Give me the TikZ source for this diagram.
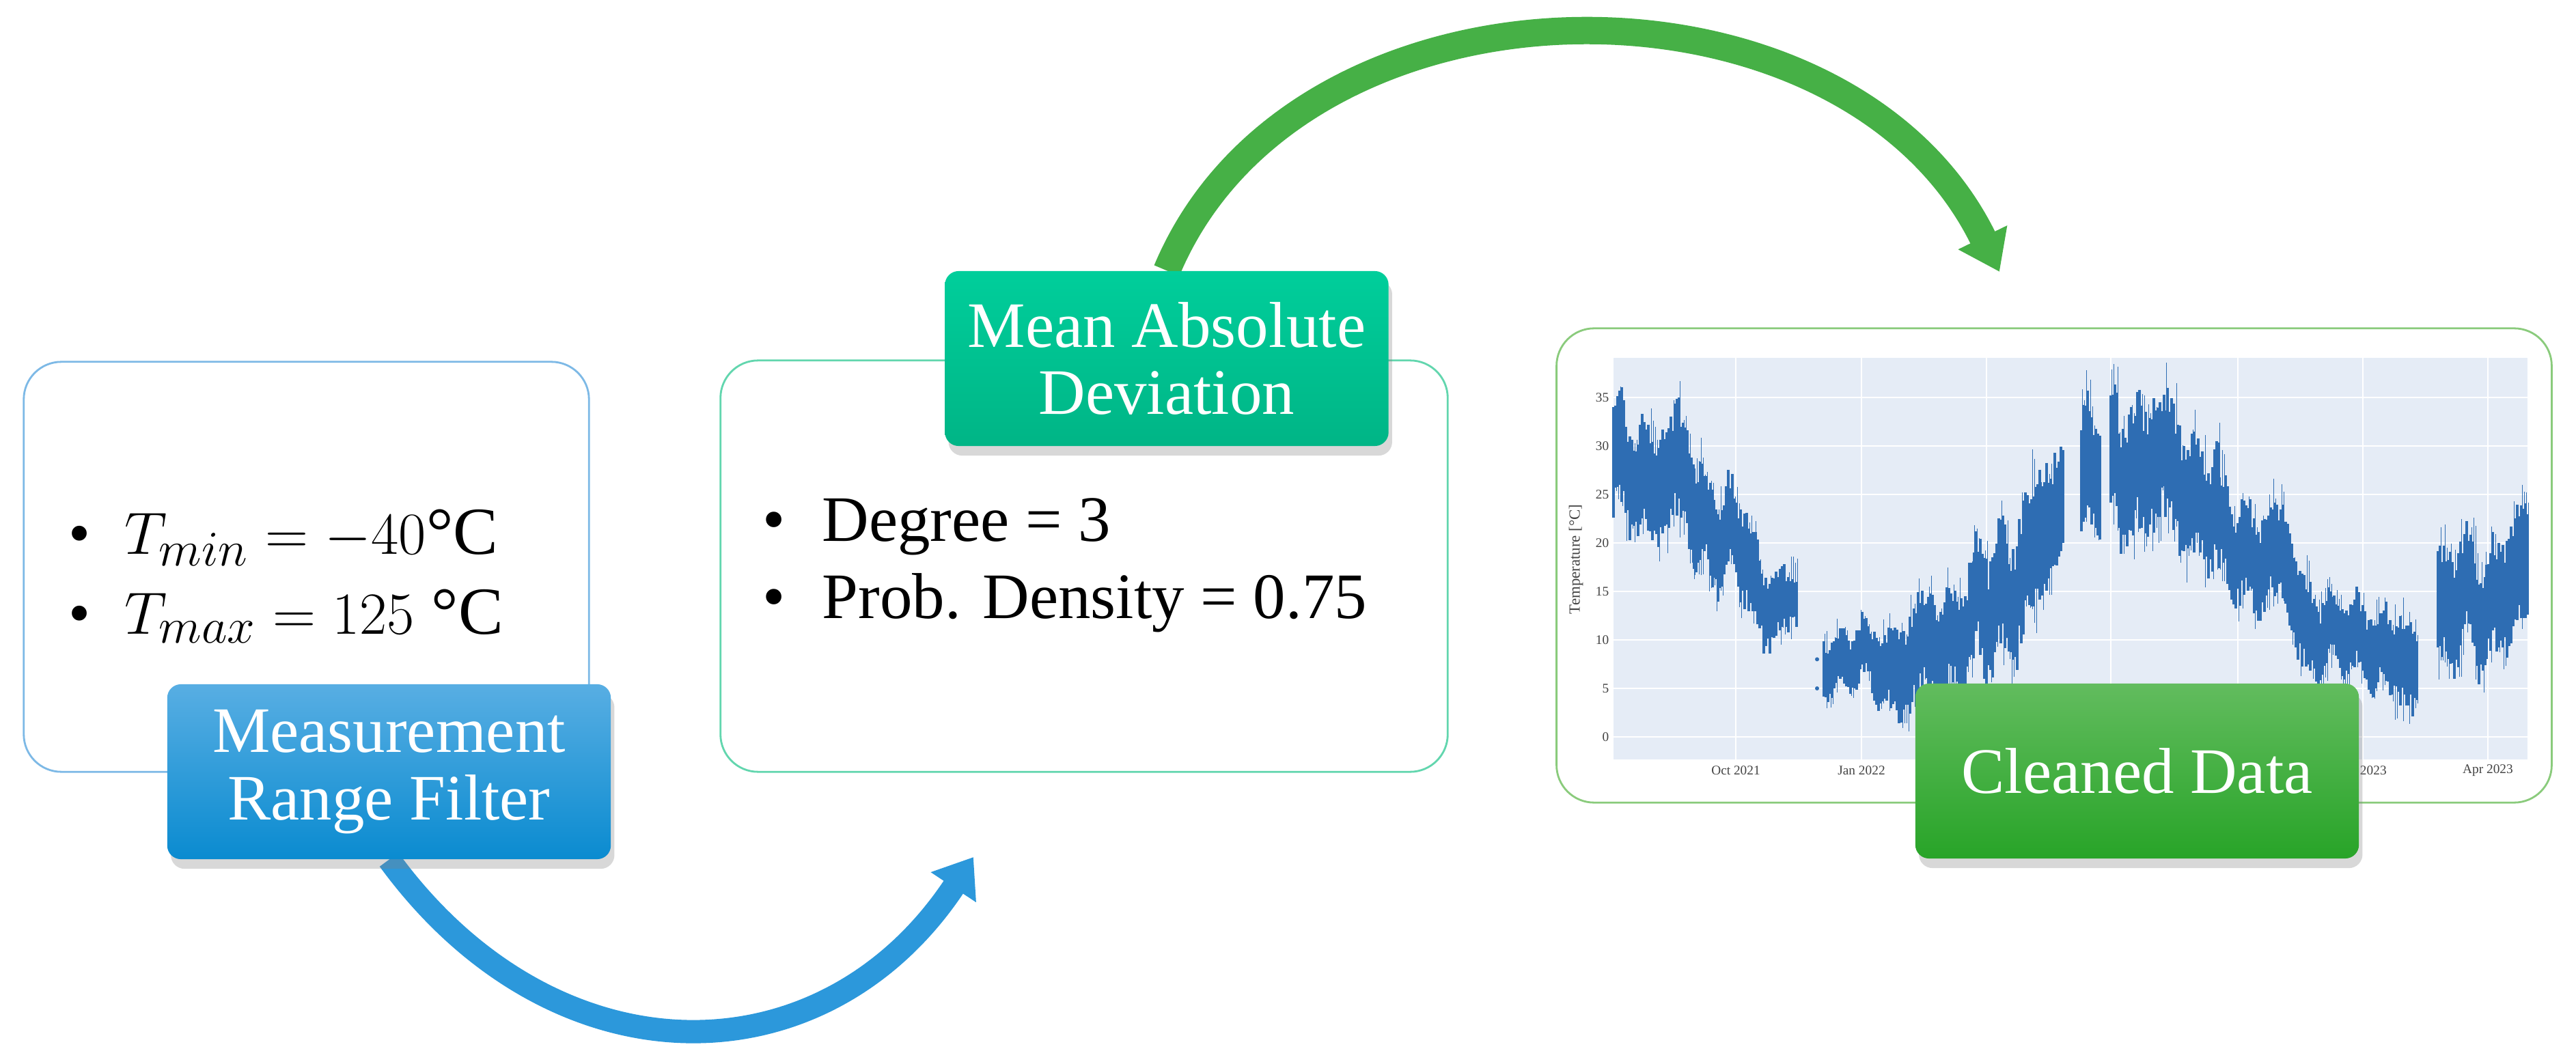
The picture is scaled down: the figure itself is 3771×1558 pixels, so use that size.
\documentclass[tikz,border=0pt]{standalone}
\usepackage{fontspec}
\setmainfont{Liberation Serif}
\usetikzlibrary{arrows.meta,shadows}
\definecolor{bOneBorder}{HTML}{7DB9E6}
\definecolor{bTwoBorder}{HTML}{62D6AE}
\definecolor{bThreeBorder}{HTML}{8ACB7C}
\definecolor{blueTop}{HTML}{58AEE3}
\definecolor{blueBot}{HTML}{0A8BD0}
\definecolor{tealTop}{HTML}{00CE9B}
\definecolor{tealBot}{HTML}{00B586}
\definecolor{greenTop}{HTML}{62BC5E}
\definecolor{greenBot}{HTML}{28A428}
\definecolor{arrBlue}{HTML}{2C98DB}
\definecolor{arrGreen}{HTML}{46B046}
\definecolor{plotBg}{HTML}{E5ECF6}
\definecolor{dataLine}{HTML}{2E6DB3}
\definecolor{tickText}{HTML}{444444}
\pgfdeclarelayer{bg}
\pgfdeclarelayer{arr}
\pgfsetlayers{bg,arr,main}
\begin{document}
\begin{tikzpicture}[x=0.01cm,y=-0.01cm,
  panel/.style={draw, line width=0.8pt, rounded corners=0.55cm, fill=white, inner sep=0pt},
  tag/.style={rounded corners=0.2cm, minimum width=6.49cm, minimum height=2.56cm,
    inner sep=0pt, text=white, align=center, font=\fontsize{27pt}{28pt}\selectfont,
    drop shadow={shadow xshift=1.5pt, shadow yshift=-4pt, opacity=0.3}},
  bulline/.style={anchor=base west, inner sep=0pt},
  tickl/.style={font=\fontsize{5.5pt}{6pt}\selectfont, text=tickText, inner sep=0pt},
  gridl/.style={white, line width=0.6pt},
  datathick/.style={dataLine, line width=0.032cm},
  datathin/.style={dataLine, line width=0.013cm},
  flowblue/.style={line width=0.34cm, arrBlue, -{Triangle[length=0.53cm,width=0.76cm]}},
  flowgreen/.style={line width=0.4cm, arrGreen, -{Triangle[length=0.56cm,width=0.76cm]}}
]
\useasboundingbox (0,0) rectangle (3771,1558);
\begin{pgfonlayer}{bg}
\fill[white] (0,0) rectangle (3771,1558);
\end{pgfonlayer}

% panels
\node[panel, draw=bOneBorder, minimum width=8.27cm, minimum height=6.0cm] (box1) at (448.5,830) {};
\node[panel, draw=bTwoBorder, minimum width=10.64cm, minimum height=6.02cm] (box2) at (1587,829) {};
\node[panel, draw=bThreeBorder, minimum width=14.56cm, minimum height=6.94cm] (box3) at (3007,828) {};

% bullet texts
\node[bulline, font=\fontsize{28pt}{30pt}\selectfont] (tmin) at (100,811) {\makebox[0.82cm][l]{\fontsize{26pt}{30pt}\selectfont\textbullet}$T_{min} = -40$°C};
\node[bulline, font=\fontsize{28pt}{30pt}\selectfont] (tmax) at (100,928) {\makebox[0.82cm][l]{\fontsize{26pt}{30pt}\selectfont\textbullet}$T_{max} = 125$~°C};
\node[bulline, font=\fontsize{27pt}{30pt}\selectfont] (deg) at (1116,793) {\makebox[0.87cm][l]{\textbullet}Degree = 3};
\node[bulline, font=\fontsize{27pt}{30pt}\selectfont] (prob) at (1116,906) {\makebox[0.87cm][l]{\textbullet}Prob. Density = 0.75};

% chart
\fill[plotBg] (2362,524) rectangle (3700,1112);
\foreach \v in {0,5,...,35} \draw[gridl] (2362,{1079-14.2*\v}) -- (3700,{1079-14.2*\v});
\foreach \x in {2541,2725,2908,3090,3276,3459,3642} \draw[gridl] (\x,524) -- (\x,1112);
\foreach \v in {0,5,...,35} \node[tickl, anchor=east] (yt\v) at (2356,{1079-14.2*\v}) {\v};
\node[tickl] (xtA) at (2541,1128) {Oct 2021};
\node[tickl] (xtB) at (2725,1128) {Jan 2022};
\node[tickl] (xtC) at (3459,1128) {Jan 2023};
\node[tickl] (xtD) at (3642,1128) {Apr 2023};
\node[tickl, rotate=90, font=\fontsize{6.5pt}{7pt}\selectfont] (ylab) at (2307,819) {Temperature [°C]};

\pgfmathsetseed{11}
\foreach \xa/\ca/\aa/\xb/\cb/\ab in {
2362/27/6/2464/27/6, 2464/27/6/2480/23/6, 2480/23/6/2509/22/5, 2509/22/5/2554/19/5,
2554/19/5/2570/15/5, 2570/15/5/2585/14/4, 2585/14/4/2632/14/3,
2670/8/3/2723/8/3, 2723/8/3/2784/7/5, 2784/7/5/2890/12/6, 2890/12/6/2929/14/7,
2929/14/7/2987/20/7, 2987/20/7/3021/24/6,
3047/27/7/3076/27/7,
3090/28/7/3170/28/7, 3170/28/7/3249/23/6,
3249/20/5/3346/18/5, 3346/18/5/3370/12/5, 3370/12/5/3414/10/4, 3414/10/4/3472/10/4,
3472/10/4/3540/6/5,
3569/13/6/3640/14/6, 3640/14/6/3700/17/6}{
  \pgfmathtruncatemacro{\nsteps}{(\xb-\xa)/3}
  \foreach \k in {0,...,\nsteps}{
    \pgfmathsetmacro{\xx}{\xa+3*\k}
    \pgfmathsetmacro{\xr}{\xx-2362}
    \pgfmathsetmacro{\fr}{3*\k/(\xb-\xa)}
    \pgfmathsetmacro{\wig}{(1.7*sin(9*\xr)+1.3*sin(4.1*\xr+40)+1.0*sin(11*\xr+10))*(\aa+\ab)/14}
    \pgfmathsetmacro{\cen}{\ca+(\cb-\ca)*\fr+\wig}
    \pgfmathsetmacro{\ampl}{\aa+(\ab-\aa)*\fr}
    \pgfmathsetmacro{\ylo}{1079-14.2*(\cen-\ampl*(0.55+0.5*rnd))}
    \pgfmathsetmacro{\yhi}{1079-14.2*(\cen+\ampl*(0.55+0.5*rnd))}
    \pgfmathsetmacro{\rA}{rnd}
    \pgfmathsetmacro{\rB}{rnd}
    \pgfmathsetmacro{\ylos}{1079-14.2*(\cen-\ampl*(0.6+0.8*\rA*\rA))}
    \pgfmathsetmacro{\yhis}{1079-14.2*(\cen+\ampl*(0.6+0.8*\rB*\rB))}
    \draw[datathick] (\xx,\ylo) -- (\xx,\yhi);
    \draw[datathin] (\xx+1.5,\ylos) -- (\xx+1.5,\yhis);
  }
}
\fill[dataLine] (2660,{1079-14.2*8}) circle (0.03cm);
\fill[dataLine] (2660,{1079-14.2*5}) circle (0.03cm);

% arrow end points
\coordinate (btip) at (1425,1255);
\coordinate (gtip) at (2927,398);

% tags
\node[tag, top color=blueTop, bottom color=blueBot] (mrf) at (569.5,1130) {Measurement\\Range Filter};
\node[tag, top color=tealTop, bottom color=tealBot] (mad) at (1708,525) {Mean Absolute\\Deviation};
\node[tag, top color=greenTop, bottom color=greenBot] (cd) at (3128.5,1129) {Cleaned Data};

% arrows, below the tags
\begin{pgfonlayer}{arr}
\draw[flowblue] (mrf.south) .. controls (810,1588) and (1204,1588) .. (btip);
\draw[flowgreen] (mad.north) .. controls (1900,-62) and (2700,-67) .. (gtip);
\end{pgfonlayer}
\end{tikzpicture}
\end{document}
